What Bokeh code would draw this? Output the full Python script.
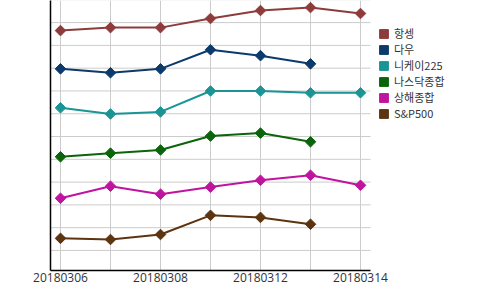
from bokeh.plotting import figure
from bokeh.models import Legend, LegendItem, FixedTicker
from bokeh.embed import file_html
from bokeh.resources import INLINE
import numpy as np

dates = ["20180306", "20180307", "20180308", "20180309", "20180312", "20180313", "20180314"]
label_dates = ["20180306", "20180308", "20180312", "20180314"]

names = ["항셍", "다우", "니케이225", "나스닥종합", "상해종합", "S&P500"]
colors = ["#8E3B3B", "#0B3A6B", "#1A9494", "#0A640A", "#C013A0", "#5C3410"]

hangseng = [10.65, 10.78, 10.78, 11.18, 11.53, 11.66, 11.40]
dow = [8.97, 8.80, 8.97, 9.81, 9.55, 9.19]
nikkei = [7.26, 6.99, 7.08, 8.00, 8.00, 7.92, 7.92]
nasdaq = [5.11, 5.27, 5.41, 6.02, 6.15, 5.77]
shanghai = [3.29, 3.82, 3.47, 3.78, 4.08, 4.30, 3.86]
sp500 = [1.53, 1.48, 1.70, 2.54, 2.45, 2.15]

series = [hangseng, dow, nikkei, nasdaq, shanghai, sp500]
grid_levels = list(range(1, 13))

x_lo, x_hi = -0.2, len(dates) - 1 + 0.2

p = figure(width=500, height=290, output_backend="svg", toolbar_location=None,
           x_range=(x_lo, 8.8), y_range=(0.12, 11.97),
           min_border_left=50, min_border_right=0, min_border_top=0, min_border_bottom=20)
p.outline_line_color = None

# horizontal grid lines limited to the plotting region
p.segment(x0=[x_lo] * len(grid_levels), x1=[x_hi] * len(grid_levels),
          y0=grid_levels, y1=grid_levels, line_color="#cccccc", line_width=1)

items = []
for name, col, vals in zip(names, colors, series):
    xs = list(range(len(vals)))
    p.line(xs, vals, line_color=col, line_width=2)
    p.scatter(xs, vals, marker="square", angle=np.pi / 4, size=7.5,
              fill_color=col, line_color=col)
    r3 = p.quad(left=[0], right=[0], top=[0], bottom=[0], fill_color=col,
                line_color=col, visible=False)
    items.append(LegendItem(label=name, renderers=[r3]))

label_idx = [dates.index(d) for d in label_dates]
p.xaxis.ticker = FixedTicker(ticks=label_idx)
p.xaxis.major_label_overrides = {i: dates[i] for i in label_idx}
p.xaxis.bounds = (x_lo, x_hi)
p.xaxis.major_tick_out = 0
p.xaxis.major_tick_in = 0
p.xaxis.minor_tick_out = 0
p.xaxis.minor_tick_in = 0
p.xaxis.major_label_standoff = 2
p.xaxis.major_label_text_font = "Open Sans"
p.xaxis.major_label_text_font_size = "12px"
p.xaxis.major_label_text_color = "#333333"
p.xaxis.axis_line_color = "black"
p.xaxis.axis_line_width = 1.5

p.yaxis.ticker = FixedTicker(ticks=[])
p.yaxis.major_tick_out = 0
p.yaxis.major_tick_in = 0
p.yaxis.minor_tick_out = 0
p.yaxis.minor_tick_in = 0
p.yaxis.axis_line_color = "black"
p.yaxis.axis_line_width = 1.5

p.xgrid.ticker = FixedTicker(ticks=list(range(len(dates))))
p.xgrid.grid_line_color = "#cccccc"
p.xgrid.grid_line_width = 1
p.ygrid.visible = False

legend = Legend(items=items, location=(328, 149), padding=0, spacing=0, margin=0,
                glyph_width=11, glyph_height=11, label_height=15, label_standoff=5,
                label_text_font="Noto Sans CJK KR", label_text_font_size="11px",
                label_text_color="#333333", border_line_color=None,
                background_fill_alpha=0)
p.add_layout(legend, "center")

open("out.html", "w").write(file_html(p, INLINE))
